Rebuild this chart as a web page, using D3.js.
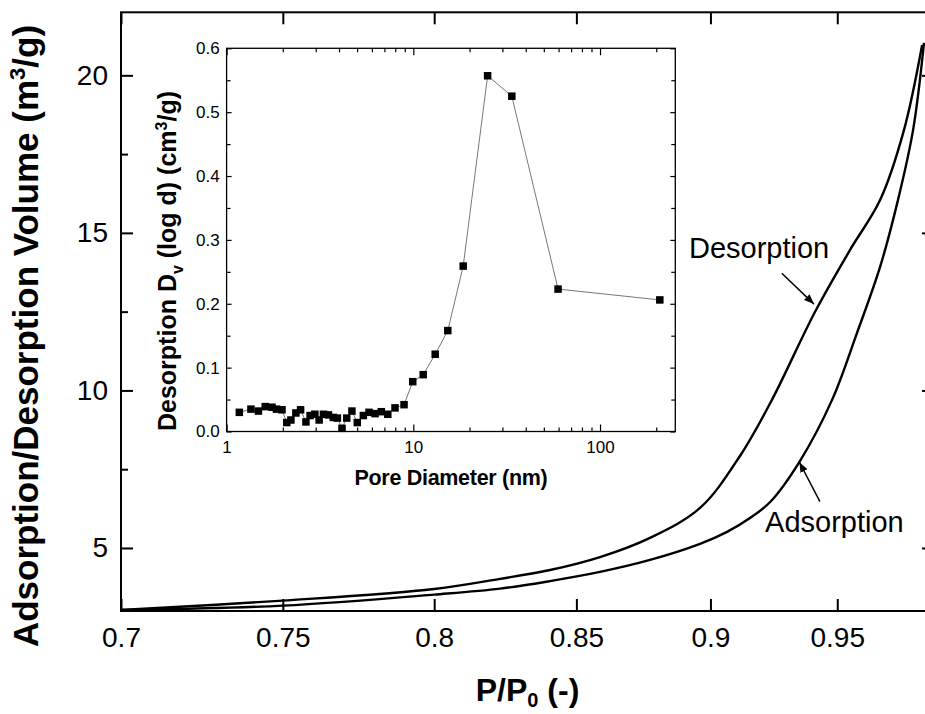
<!DOCTYPE html>
<html>
<head>
<meta charset="utf-8">
<script src="https://cdn.jsdelivr.net/npm/d3@7"></script>
<style>
body { margin: 0; background: #fff; }
svg { display: block; font-family: "Liberation Sans", Arial, sans-serif; }
.axis path, .axis line { stroke: #000; }
.axis text { fill: #000; }
</style>
</head>
<body>
<svg id="chart" width="925" height="714"></svg>
<script>
// main isotherm: relative pressure vs volume
const xTicks = [0.7, 0.75, 0.8, 0.85, 0.9, 0.95];
const yTicks = [5, 10, 15, 20];
const yMinor = [7.5, 12.5, 17.5];

const desP = [0.700, 0.750, 0.800, 0.8228, 0.8405, 0.8586, 0.8771, 0.8960, 0.9114, 0.9239, 0.9410, 0.9552, 0.9675, 0.9774, 0.9850];
const desV = [3.03, 3.33, 3.70, 4.02, 4.30, 4.71, 5.32, 6.27, 7.92, 9.70, 12.49, 14.46, 16.04, 18.26, 20.96];
const adsP = [0.700, 0.750, 0.800, 0.8228, 0.8405, 0.8586, 0.8771, 0.8960, 0.9064, 0.9153, 0.9232, 0.9350, 0.9479, 0.9580, 0.9675, 0.9749, 0.9812, 0.9858];
const adsV = [3.03, 3.17, 3.52, 3.71, 3.95, 4.24, 4.62, 5.13, 5.51, 5.95, 6.46, 7.76, 9.70, 11.82, 13.92, 16.04, 18.26, 21.03];

// inset: pore size distribution
const poreD = [1.17, 1.35, 1.48, 1.61, 1.75, 1.85, 1.98, 2.10, 2.21, 2.35, 2.49, 2.66, 2.80, 2.97, 3.13, 3.30,
  3.51, 3.73, 3.92, 4.15, 4.40, 4.69, 5.01, 5.40, 5.79, 6.24, 6.74, 7.30, 7.98, 8.92, 9.93, 11.3, 13.1, 15.3,
  18.5, 25.0, 33.7, 59.6, 209];
const poreDv = [0.030, 0.035, 0.032, 0.039, 0.038, 0.035, 0.034, 0.014, 0.018, 0.029, 0.034, 0.015, 0.025, 0.027,
  0.018, 0.027, 0.026, 0.022, 0.021, 0.005, 0.021, 0.032, 0.014, 0.025, 0.030, 0.028, 0.031, 0.027, 0.037, 0.042,
  0.078, 0.089, 0.121, 0.158, 0.259, 0.557, 0.525, 0.223, 0.206];
const insetXTicks = [1, 10, 100];
const insetXMinor = [2, 3, 4, 5, 6, 7, 8, 9, 20, 30, 40, 50, 60, 70, 80, 90, 200];
const insetYTicks = [0, 0.1, 0.2, 0.3, 0.4, 0.5, 0.6];
const insetYMinor = [0.05, 0.15, 0.25, 0.35, 0.45, 0.55];

// annotations (data coords of text start and arrow tail/tip)
const notes = [
  {label: 'Desorption', tx: 0.8918, ty: 14.20, from: [0.9278, 13.72], to: [0.9406, 12.74]},
  {label: 'Adsorption', tx: 0.9212, ty: 5.51, from: [0.9430, 6.47], to: [0.9348, 7.72]}
];

const svg = d3.select('#chart');
const box = {left: 121, right: 934, top: 12.3, bottom: 611};

const x = d3.scaleLog().domain([0.7, 0.99]).range([box.left, box.right]);
const y = d3.scaleLinear().domain([3, 22]).range([box.bottom, box.top]);

const defs = svg.append('defs');
defs.append('clipPath').attr('id', 'mainClip')
  .append('rect')
  .attr('x', box.left).attr('y', box.top)
  .attr('width', box.right - box.left).attr('height', box.bottom - box.top);
defs.append('marker')
  .attr('id', 'arrow')
  .attr('viewBox', '0 0 10 8')
  .attr('refX', 10).attr('refY', 4)
  .attr('markerWidth', 10).attr('markerHeight', 8)
  .attr('markerUnits', 'userSpaceOnUse')
  .attr('orient', 'auto')
  .append('path').attr('d', 'M0,0L10,4L0,8z').attr('fill', '#000');

// frame
svg.append('rect')
  .attr('x', box.left).attr('y', box.top)
  .attr('width', box.right - box.left).attr('height', box.bottom - box.top)
  .attr('fill', 'none').attr('stroke', '#000').attr('stroke-width', 2);

// bottom axis
svg.append('g')
  .attr('class', 'axis')
  .attr('transform', 'translate(0,' + box.bottom + ')')
  .call(d3.axisBottom(x).tickValues(xTicks).tickFormat(d => String(d)).tickSize(-12).tickSizeOuter(0).tickPadding(16))
  .call(g => g.select('.domain').remove())
  .call(g => g.selectAll('line').attr('stroke-width', 2))
  .call(g => g.selectAll('text').style('font-size', '28px'));

// top axis
svg.append('g')
  .attr('class', 'axis')
  .attr('transform', 'translate(0,' + box.top + ')')
  .call(d3.axisTop(x).tickValues(xTicks).tickFormat('').tickSize(-12).tickSizeOuter(0))
  .call(g => g.select('.domain').remove())
  .call(g => g.selectAll('line').attr('stroke-width', 2));

// left axis
svg.append('g')
  .attr('class', 'axis')
  .attr('transform', 'translate(' + box.left + ',0)')
  .call(d3.axisLeft(y).tickValues(yTicks).tickSize(-12).tickSizeOuter(0).tickPadding(13))
  .call(g => g.select('.domain').remove())
  .call(g => g.selectAll('line').attr('stroke-width', 2))
  .call(g => g.selectAll('text').style('font-size', '28px'));
svg.append('g')
  .attr('class', 'axis')
  .attr('transform', 'translate(' + box.left + ',0)')
  .call(d3.axisLeft(y).tickValues(yMinor).tickFormat('').tickSize(-7).tickSizeOuter(0))
  .call(g => g.select('.domain').remove())
  .call(g => g.selectAll('line').attr('stroke-width', 2));

// right axis
svg.append('g')
  .attr('class', 'axis')
  .attr('transform', 'translate(' + box.right + ',0)')
  .call(d3.axisRight(y).tickValues(yTicks).tickFormat('').tickSize(-12).tickSizeOuter(0))
  .call(g => g.select('.domain').remove())
  .call(g => g.selectAll('line').attr('stroke-width', 2));
svg.append('g')
  .attr('class', 'axis')
  .attr('transform', 'translate(' + box.right + ',0)')
  .call(d3.axisRight(y).tickValues(yMinor).tickFormat('').tickSize(-7).tickSizeOuter(0))
  .call(g => g.select('.domain').remove())
  .call(g => g.selectAll('line').attr('stroke-width', 2));

// isotherm curves
const line = d3.line()
  .x(d => x(d[0]))
  .y(d => y(d[1]))
  .curve(d3.curveCatmullRom.alpha(0.5));

const curves = svg.append('g').attr('clip-path', 'url(#mainClip)');
curves.append('path')
  .datum(desP.map((p, i) => [p, desV[i]]))
  .attr('d', line)
  .attr('fill', 'none').attr('stroke', '#000').attr('stroke-width', 2.4);
curves.append('path')
  .datum(adsP.map((p, i) => [p, adsV[i]]))
  .attr('d', line)
  .attr('fill', 'none').attr('stroke', '#000').attr('stroke-width', 2.4);

// annotations
notes.forEach(n => {
  svg.append('text')
    .attr('x', x(n.tx)).attr('y', y(n.ty))
    .style('font-size', '29px')
    .text(n.label);
  svg.append('line')
    .attr('x1', x(n.from[0])).attr('y1', y(n.from[1]))
    .attr('x2', x(n.to[0])).attr('y2', y(n.to[1]))
    .attr('stroke', '#000').attr('stroke-width', 1.5)
    .attr('marker-end', 'url(#arrow)');
});

// axis titles
svg.append('text')
  .attr('transform', 'translate(' + ((box.left + box.right) / 2) + ',701)')
  .attr('text-anchor', 'middle')
  .style('font-size', '32px').style('font-weight', 'bold')
  .call(t => {
    t.append('tspan').text('P/P');
    t.append('tspan').attr('dy', 6).style('font-size', '20px').text('0');
    t.append('tspan').attr('dy', -6).text(' (-)');
  });

svg.append('text')
  .attr('transform', 'translate(38,336) rotate(-90)')
  .attr('text-anchor', 'middle')
  .style('font-size', '35px').style('font-weight', 'bold')
  .call(t => {
    t.append('tspan').text('Adsorption/Desorption Volume (m');
    t.append('tspan').attr('dy', -13).style('font-size', '22px').text('3');
    t.append('tspan').attr('dy', 13).text('/g)');
  });

// ---- inset ----
const ibox = {left: 226.6, right: 675.3, top: 48.3, bottom: 431.5};
const ix = d3.scaleLog().domain([1, 253]).range([ibox.left, ibox.right]);
const iy = d3.scaleLinear().domain([0, 0.6]).range([ibox.bottom, ibox.top]);

svg.append('rect')
  .attr('x', ibox.left).attr('y', ibox.top)
  .attr('width', ibox.right - ibox.left).attr('height', ibox.bottom - ibox.top)
  .attr('fill', '#fff').attr('stroke', '#000').attr('stroke-width', 1.3);

function insetAxis(gen, tx, ty) {
  return svg.append('g')
    .attr('class', 'axis')
    .attr('transform', 'translate(' + tx + ',' + ty + ')')
    .call(gen)
    .call(g => g.select('.domain').remove())
    .call(g => g.selectAll('line').attr('stroke-width', 1.2))
    .call(g => g.selectAll('text').style('font-size', '17px'));
}
insetAxis(d3.axisBottom(ix).tickValues(insetXTicks).tickFormat(d3.format('d')).tickSize(-7).tickPadding(9), 0, ibox.bottom);
insetAxis(d3.axisBottom(ix).tickValues(insetXMinor).tickFormat('').tickSize(-4), 0, ibox.bottom);
insetAxis(d3.axisTop(ix).tickValues(insetXTicks).tickFormat('').tickSize(-7), 0, ibox.top);
insetAxis(d3.axisTop(ix).tickValues(insetXMinor).tickFormat('').tickSize(-4), 0, ibox.top);
insetAxis(d3.axisLeft(iy).tickValues(insetYTicks).tickFormat(d3.format('.1f')).tickSize(-5).tickPadding(7), ibox.left, 0);
insetAxis(d3.axisLeft(iy).tickValues(insetYMinor).tickFormat('').tickSize(-4), ibox.left, 0);
insetAxis(d3.axisRight(iy).tickValues(insetYTicks).tickFormat('').tickSize(-5), ibox.right, 0);
insetAxis(d3.axisRight(iy).tickValues(insetYMinor).tickFormat('').tickSize(-4), ibox.right, 0);

const pts = poreD.map((d, i) => [d, poreDv[i]]);
svg.append('path')
  .datum(pts)
  .attr('d', d3.line().x(d => ix(d[0])).y(d => iy(d[1])))
  .attr('fill', 'none').attr('stroke', '#777').attr('stroke-width', 1);
svg.append('g').selectAll('rect')
  .data(pts)
  .join('rect')
  .attr('x', d => ix(d[0]) - 3.75)
  .attr('y', d => iy(d[1]) - 3.75)
  .attr('width', 7.5).attr('height', 7.5)
  .attr('fill', '#000');

svg.append('text')
  .attr('x', (ibox.left + ibox.right) / 2).attr('y', 485)
  .attr('text-anchor', 'middle')
  .style('font-size', '21.5px').style('font-weight', 'bold')
  .style('letter-spacing', '-0.3px')
  .text('Pore Diameter (nm)');

svg.append('text')
  .attr('transform', 'translate(176,261) rotate(-90)')
  .attr('text-anchor', 'middle')
  .style('font-size', '25px').style('font-weight', 'bold')
  .call(t => {
    t.append('tspan').text('Desorption D');
    t.append('tspan').attr('dy', 7).style('font-size', '16px').text('v');
    t.append('tspan').attr('dy', -7).text(' (log d) (cm');
    t.append('tspan').attr('dy', -9).style('font-size', '16px').text('3');
    t.append('tspan').attr('dy', 9).text('/g)');
  });
</script>
</body>
</html>
